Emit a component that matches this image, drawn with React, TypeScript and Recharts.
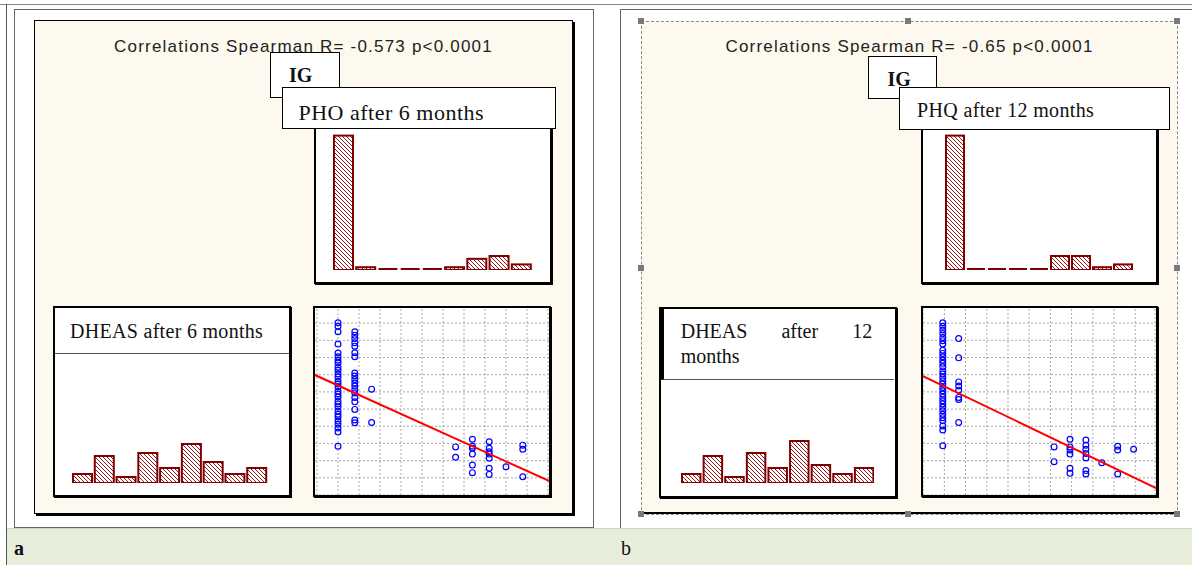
import React from "react";
import {
  Bar,
  BarChart,
  ReferenceLine,
  Scatter,
  ScatterChart,
  XAxis,
  YAxis,
} from "recharts";

// histogram bins (9 classes each)
const histBins = ["1", "2", "3", "4", "5", "6", "7", "8", "9"];
const phq6Counts = [48, 1, 0, 0, 0, 1, 4, 5, 2];
const phq12Counts = [48, 0, 0, 0, 0, 5, 5, 1, 2];
const dheas6Counts = [3, 9, 2, 10, 5, 13, 7, 3, 5];
const dheas12Counts = [3, 9, 2, 10, 5, 14, 6, 3, 5];

// scatter: PHQ score levels and DHEAS values seen at each level
const phqLevels6 = [0, 1, 2, 7, 8, 9, 10, 11];
const dheasAt6 = [
  [501, 491, 475, 439, 413, 402, 392, 384, 372, 363, 352, 343, 331, 323, 314, 302, 294, 285, 273, 265, 256, 244, 235, 227, 215, 206, 195, 183, 142],
  [475, 465, 455, 443, 433, 414, 402, 355, 346, 336, 326, 317, 307, 297, 284, 271, 249, 218, 210],
  [308, 211],
  [140, 110],
  [162, 142, 136, 119, 87, 65],
  [155, 136, 126, 119, 107, 78, 60],
  [82],
  [145, 133, 53],
];
const phqLevels12 = [0, 1, 7, 8, 9, 10, 11, 12];
const dheasAt12 = [
  [501, 491, 480, 470, 458, 449, 439, 421, 412, 402, 392, 383, 373, 361, 352, 342, 332, 323, 313, 303, 294, 284, 274, 265, 255, 245, 235, 225, 216, 201, 189, 143],
  [455, 399, 329, 317, 305, 284, 278, 211],
  [140, 97],
  [162, 140, 131, 119, 78, 63],
  [160, 145, 133, 121, 108, 71, 61],
  [94],
  [142, 131, 61],
  [133],
];

// fitted regression lines (ends of the visible range)
const fit6Phq = [-1.37, 12.56];
const fit6Dheas = [349, 41];
const fit12Phq = [-1.245, 13.41];
const fit12Dheas = [346, 20];

// grid ticks
const grid6Phq = [-1.25, 0, 1.25, 2.5, 3.75, 5, 6.25, 7.5, 8.75, 10, 11.25, 12.5];
const grid12Phq = [-1.24, 0.1, 1.43, 2.77, 4.1, 5.43, 6.77, 8.1, 9.44, 10.77, 12.1, 13.35];
const gridDheas = [0, 50, 100, 150, 200, 250, 300, 350, 400, 450, 500];

const BAR = "#800000";
const CREAM = "#fdf9ee";
const SERIF = '"Liberation Serif", "Times New Roman", serif';
const SANS = '"Liberation Sans", Arial, sans-serif';

const toBins = (counts: number[]) => histBins.map((bin, i) => ({ bin, count: counts[i] }));
const toPoints = (levels: number[], values: number[][]) =>
  levels.flatMap((phq, i) => values[i].map((dheas) => ({ phq, dheas })));
const toFit = (xs: number[], ys: number[]) => xs.map((phq, i) => ({ phq, dheas: ys[i] }));

function HatchBar(props: any) {
  const { x, y, width, height, payload, patternId } = props;
  if (!payload || payload.count === 0) {
    return <rect x={x} y={y + height - 2} width={width} height={2} fill={BAR} />;
  }
  return (
    <rect
      x={x}
      y={y}
      width={width}
      height={height}
      fill={`url(#${patternId})`}
      stroke={BAR}
      strokeWidth={2}
    />
  );
}

function Histogram({ counts, id, left, top, width, height, max, barSize }: any) {
  return (
    <div style={{ position: "absolute", left, top }}>
      <BarChart
        width={width}
        height={height}
        data={toBins(counts)}
        margin={{ top: 0, right: 0, bottom: 0, left: 0 }}
        barCategoryGap={0}
      >
        <defs>
          <pattern id={id} width="4" height="4" patternUnits="userSpaceOnUse">
            <rect width="4" height="4" fill="#fff" />
            <path d="M-1,-1 L5,5 M-1,3 L1,5 M3,-1 L5,1" stroke={BAR} strokeWidth="0.9" />
          </pattern>
        </defs>
        <XAxis dataKey="bin" hide />
        <YAxis hide domain={[0, max]} />
        <Bar
          dataKey="count"
          barSize={barSize}
          minPointSize={0.5}
          isAnimationActive={false}
          shape={<HatchBar patternId={id} />}
        />
      </BarChart>
    </div>
  );
}

function Ring(props: any) {
  return <circle cx={props.cx} cy={props.cy} r={2.9} fill="none" stroke="#0000ff" strokeWidth={1.2} />;
}

const gridStyle = { stroke: "#a8a8a8", strokeDasharray: "2 2", strokeWidth: 1 };

function ScatterPanel({ points, fit, left, top, width, height, xDomain, xTicks }: any) {
  return (
    <div style={{ position: "absolute", left, top }}>
      <ScatterChart width={width} height={height} margin={{ top: 0, right: 0, bottom: 0, left: 0 }}>
        <XAxis
          type="number"
          dataKey="phq"
          domain={xDomain}
          ticks={xTicks}
          allowDataOverflow
          height={0}
          tick={false}
          axisLine={false}
          tickLine={false}
        />
        <YAxis
          type="number"
          dataKey="dheas"
          domain={[0, 544]}
          ticks={gridDheas}
          allowDataOverflow
          width={0}
          tick={false}
          axisLine={false}
          tickLine={false}
        />
        {xTicks.map((v: number) => (
          <ReferenceLine key={`x${v}`} x={v} {...gridStyle} />
        ))}
        {gridDheas.map((v) => (
          <ReferenceLine key={`y${v}`} y={v} {...gridStyle} />
        ))}
        <Scatter data={points} shape={<Ring />} isAnimationActive={false} />
        <Scatter
          data={fit}
          line={{ stroke: "#ff0000", strokeWidth: 2 }}
          shape={() => <g />}
          isAnimationActive={false}
        />
      </ScatterChart>
    </div>
  );
}

function Box({ l, t, w, h, style, children }: any) {
  return (
    <div
      style={{
        position: "absolute",
        left: l,
        top: t,
        width: w,
        height: h,
        boxSizing: "border-box",
        ...style,
      }}
    >
      {children}
    </div>
  );
}

function Txt({ l, t, size, style, children }: any) {
  return (
    <div
      style={{
        position: "absolute",
        left: l,
        top: t,
        fontSize: size,
        lineHeight: `${size}px`,
        whiteSpace: "nowrap",
        color: "#111",
        ...style,
      }}
    >
      {children}
    </div>
  );
}

const Handle = ({ x, y }: any) => (
  <Box l={x - 3} t={y - 3} w={6} h={6} style={{ background: "#7a7a7a" }} />
);

const panelBorder = { border: "2px solid #000", boxShadow: "1px 1px 0 #000", background: "#fff" };

export default function App() {
  return (
    <div
      style={{
        position: "absolute",
        left: 0,
        top: 0,
        width: 1192,
        height: 565,
        background: "#fff",
        overflow: "hidden",
      }}
    >
      {/* document table frame */}
      <Box l={0} t={4} w={1192} h={1} style={{ background: "#8a8a8a" }} />
      <Box l={6} t={4} w={1} h={561} style={{ background: "#555" }} />
      <Box l={14} t={9} w={580} h={519} style={{ border: "1px solid #666" }} />
      <Box l={620} t={9} w={580} h={520} style={{ borderLeft: "1px solid #666", borderTop: "1px solid #666" }} />
      <Box l={7} t={528} w={1185} h={37} style={{ background: "#e7efdc", borderTop: "1px solid #c9d9b8" }} />
      <Txt l={14} t={538} size={20} style={{ fontFamily: SERIF, fontWeight: 700 }}>a</Txt>
      <Txt l={621} t={538} size={20} style={{ fontFamily: SERIF }}>b</Txt>

      {/* panel a */}
      <Box l={34} t={20} w={539} h={494} style={{ background: CREAM, border: "1px solid #000", boxShadow: "2px 2px 0 #000" }} />
      <Txt l={34} t={38} size={17} style={{ fontFamily: SANS, width: 539, textAlign: "center", letterSpacing: 1.2, color: "#222" }}>
        Correlations Spearman R= -0.573 p&lt;0.0001
      </Txt>
      <Box l={313.5} t={122} w={238} h={162} style={panelBorder} />
      <Histogram counts={phq6Counts} id="hatchA" left={332} top={130} width={200} height={140} max={50} barSize={19} />
      <Box l={270} t={52} w={70} h={46} style={{ background: "#fff", border: "1px solid #000" }} />
      <Txt l={289} t={65} size={20} style={{ fontFamily: SERIF, fontWeight: 700 }}>IG</Txt>
      <Box l={282} t={87} w={274} h={42} style={{ background: "#fff", border: "1px solid #000" }} />
      <Box l={283} t={88} w={272} h={32} style={{ overflow: "hidden" }}>
        <Txt l={15.5} t={14} size={22} style={{ fontFamily: SERIF, letterSpacing: 0.5 }}>PHO after 6 months</Txt>
      </Box>

      <Box l={52.5} t={306} w={238} h={191} style={panelBorder} />
      <Box l={54.5} t={308} w={234} h={46} style={{ borderBottom: "1px solid #555" }} />
      <Txt l={70} t={321} size={20} style={{ fontFamily: SERIF, letterSpacing: 0.3 }}>DHEAS after 6 months</Txt>
      <Histogram counts={dheas6Counts} id="hatchB" left={72} top={353.5} width={196} height={129} max={43} barSize={19} />

      <Box l={313} t={306} w={238} h={191} style={panelBorder} />
      <ScatterPanel
        points={toPoints(phqLevels6, dheasAt6)}
        fit={toFit(fit6Phq, fit6Dheas)}
        left={315}
        top={308}
        width={234}
        height={187}
        xDomain={[-1.37, 12.56]}
        xTicks={grid6Phq}
      />

      {/* panel b */}
      <Box l={641} t={21} w={537} h={494} style={{ background: CREAM, border: "1px dashed #8a8a8a" }} />
      <Box l={642} t={512} w={535} h={2} style={{ background: "#000" }} />
      {[[641, 21], [908, 21], [1177, 21], [641, 268], [1177, 268], [641, 514], [908, 514], [1177, 514]].map(([x, y]) => (
        <Handle key={`${x}-${y}`} x={x} y={y} />
      ))}
      <Txt l={641} t={38} size={17} style={{ fontFamily: SANS, width: 537, textAlign: "center", letterSpacing: 1.2, color: "#222" }}>
        Correlations Spearman R= -0.65 p&lt;0.0001
      </Txt>
      <Box l={920.5} t={122} w={237} h={162} style={panelBorder} />
      <Histogram counts={phq12Counts} id="hatchC" left={944.3} top={130} width={189} height={140} max={50} barSize={18} />
      <Box l={867.5} t={56} w={69} h={43} style={{ background: "#fff", border: "1px solid #000" }} />
      <Txt l={887.5} t={69} size={20} style={{ fontFamily: SERIF, fontWeight: 700 }}>IG</Txt>
      <Box l={899} t={87} w={271} h={43} style={{ background: "#fff", border: "1px solid #000" }} />
      <Txt l={917} t={100} size={20} style={{ fontFamily: SERIF, letterSpacing: 0.35 }}>PHQ after 12 months</Txt>

      <Box l={659} t={306.5} w={238} h={191} style={panelBorder} />
      <Box l={661} t={308.5} w={233} h={71} style={{ borderLeft: "3px solid #000", borderBottom: "1px solid #555" }} />
      <div
        style={{
          position: "absolute",
          left: 680.7,
          top: 319,
          width: 191.5,
          fontFamily: SERIF,
          fontSize: 20,
          lineHeight: "25px",
          textAlign: "justify",
          color: "#111",
        }}
      >
        DHEAS after 12 months
      </div>
      <Histogram counts={dheas12Counts} id="hatchD" left={679.5} top={353.5} width={194.5} height={129} max={43} barSize={18.5} />

      <Box l={920.5} t={306} w={237} h={191} style={panelBorder} />
      <ScatterPanel
        points={toPoints(phqLevels12, dheasAt12)}
        fit={toFit(fit12Phq, fit12Dheas)}
        left={922.5}
        top={308}
        width={233}
        height={187}
        xDomain={[-1.245, 13.41]}
        xTicks={grid12Phq}
      />
    </div>
  );
}
